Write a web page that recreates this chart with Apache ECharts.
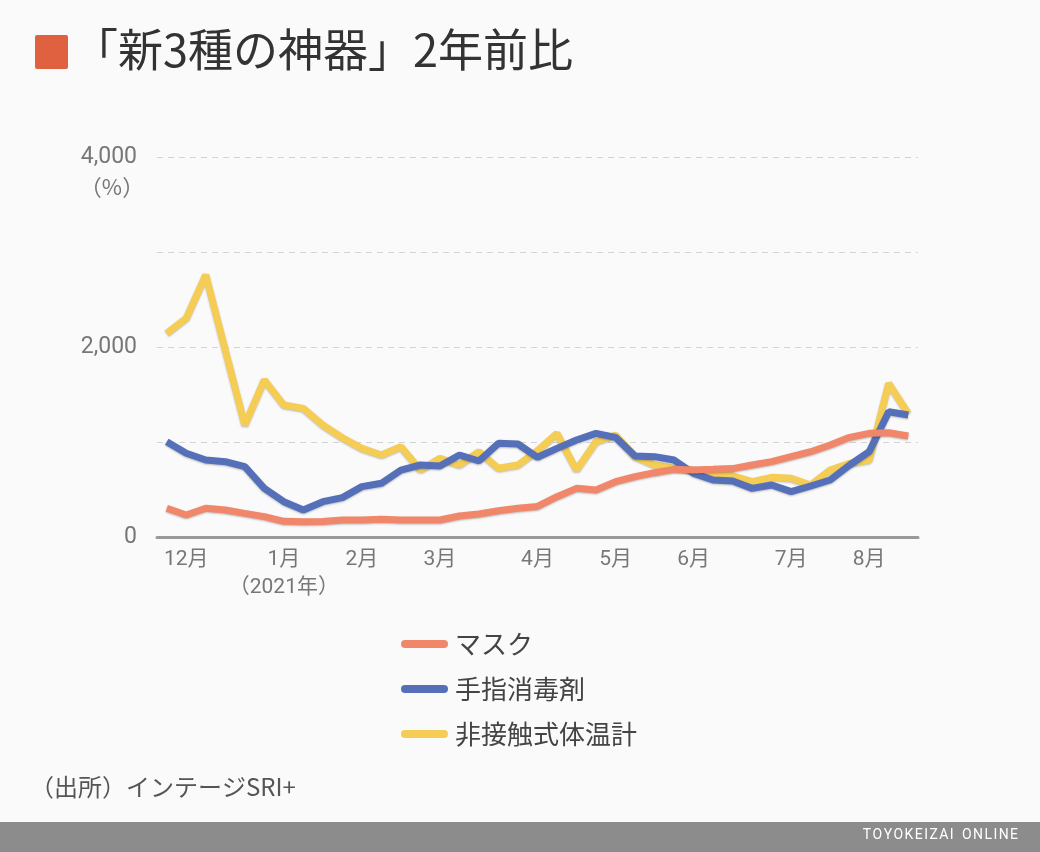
<!DOCTYPE html>
<html>
<head>
<meta charset="utf-8">
<script src="https://cdn.jsdelivr.net/npm/echarts@6/dist/echarts.min.js"></script>
<style>
  html, body { margin: 0; padding: 0; background: #fafafa; }
  #chart { width: 1040px; height: 852px; }
</style>
</head>
<body>
<div id="chart"></div>
<script>
// Weekly data, first week shown is the week before December 2020
const weeks = ["W01","W02","W03","W04","W05","W06","W07","W08","W09","W10",
               "W11","W12","W13","W14","W15","W16","W17","W18","W19","W20",
               "W21","W22","W23","W24","W25","W26","W27","W28","W29","W30",
               "W31","W32","W33","W34","W35","W36","W37","W38","W39"];
// month label shown at the week index where the month starts
const monthTickIndex = [1, 6, 10, 14, 19, 23, 27, 32, 36];
const monthTickLabel = ["12月", "1月\n（2021年）", "2月", "3月", "4月", "5月", "6月", "7月", "8月"];

const seriesNames = ["マスク", "手指消毒剤", "非接触式体温計"];
const mask = [302, 232, 302, 284, 249, 214, 165, 161, 163, 179,
              179, 186, 179, 179, 179, 221, 242, 277, 302, 322,
              424, 512, 495, 582, 635, 677, 712, 705, 712, 720,
              758, 793, 846, 898, 968, 1049, 1091, 1098, 1063];
const sanitizer = [1003, 881, 810, 793, 740, 512, 372, 284, 372, 415,
                   530, 565, 705, 758, 747, 863, 800, 986, 979, 839,
                   933, 1021, 1091, 1049, 853, 846, 810, 670, 600, 590,
                   512, 547, 477, 537, 600, 758, 898, 1319, 1284];
const thermometer = [2144, 2302, 2758, 1968, 1179, 1653, 1389, 1354, 1179, 1045,
                     933, 863, 951, 705, 828, 758, 898, 723, 758, 910,
                     1091, 705, 1003, 1074, 846, 758, 723, 705, 653, 645,
                     582, 628, 618, 547, 705, 775, 810, 1618, 1300];
const yTicksShown = [0, 2000, 4000];

const colors = ["#F0876B", "#5570B8", "#F5CD55"];
const FONT = 'Roboto, "Noto Sans CJK JP", sans-serif';
const CJK = '"Noto Sans CJK JP", Roboto, sans-serif';

const chart = echarts.init(document.getElementById('chart'), null, { renderer: 'canvas' });

const iconPath = 'path://M4,0 L43,0 A4,4 0 0 1 43,8 L4,8 A4,4 0 0 1 4,0 Z';
const lineSeries = (name, data, color, z) => ({
  name: name,
  type: 'line',
  data: data,
  showSymbol: false,
  symbol: 'none',
  z: z,
  color: color,
  lineStyle: {
    width: 7,
    color: color,
    shadowColor: 'rgba(0,0,0,0.25)',
    shadowBlur: 2,
    shadowOffsetY: 1
  },
  emphasis: { disabled: true },
  animation: false
});

chart.setOption({
  backgroundColor: '#fafafa',
  animation: false,
  textStyle: { fontFamily: FONT },
  grid: { left: 157, right: 122, top: 157, bottom: 315, containLabel: false, outerBoundsMode: 'none' },
  xAxis: {
    type: 'category',
    data: weeks,
    boundaryGap: true,
    axisLine: { lineStyle: { color: '#999', width: 3 } },
    axisTick: {
      alignWithLabel: true,
      length: 10,
      lineStyle: { color: '#aaa', width: 1 },
      interval: (i) => monthTickIndex.includes(i)
    },
    axisLabel: {
      interval: (i) => monthTickIndex.includes(i),
      formatter: (v, i) => {
        const k = monthTickIndex.indexOf(i);
        return k >= 0 ? monthTickLabel[k] : '';
      },
      color: '#777',
      fontSize: 21,
      lineHeight: 28,
      margin: 9,
      fontFamily: FONT
    },
    splitLine: { show: false }
  },
  yAxis: {
    type: 'value',
    min: 0,
    max: 4000,
    interval: 1000,
    axisLine: { show: false },
    axisTick: { show: false },
    axisLabel: {
      formatter: (v) => yTicksShown.includes(v) ? v.toLocaleString('en-US') : '',
      color: '#777',
      fontSize: 23,
      margin: 20,
      fontFamily: FONT
    },
    splitLine: { lineStyle: { color: '#d4d4d4', type: [6, 5], width: 1.2 } }
  },
  legend: {
    orient: 'vertical',
    left: 396,
    top: 626,
    itemWidth: 47,
    itemHeight: 9,
    itemGap: 19,
    icon: iconPath,
    data: seriesNames,
    textStyle: { color: '#444', fontSize: 26, fontFamily: CJK, padding: [0, 0, 0, 2] },
    selectedMode: false
  },
  series: [
    lineSeries(seriesNames[2], thermometer, colors[2], 2),
    lineSeries(seriesNames[1], sanitizer, colors[1], 3),
    lineSeries(seriesNames[0], mask, colors[0], 4)
  ],
  graphic: [
    { type: 'rect', left: 35, top: 35, shape: { width: 33, height: 34, r: 2 }, style: { fill: '#E0613F' } },
    { type: 'text', left: 73, top: 27, style: { text: '「新3種の神器」2年前比', fill: '#333', font: '45px ' + CJK } },
    { type: 'text', x: 112, y: 187, style: { text: '（%）', fill: '#777', font: '22px ' + CJK, align: 'center', verticalAlign: 'middle' } },
    { type: 'text', left: 30, top: 775, style: { text: '（出所）インテージSRI+', fill: '#555', font: '24px ' + CJK } },
    { type: 'rect', left: 0, top: 822, shape: { width: 1040, height: 30 }, style: { fill: '#8c8c8c' } },
    { type: 'text', right: 22, top: 828, style: { text: 'T O Y O K E I Z A I   O N L I N E'.replace(/ (?! )/g, '\u200A'), fill: '#fff', font: '14px ' + FONT } }
  ]
});
</script>
</body>
</html>
